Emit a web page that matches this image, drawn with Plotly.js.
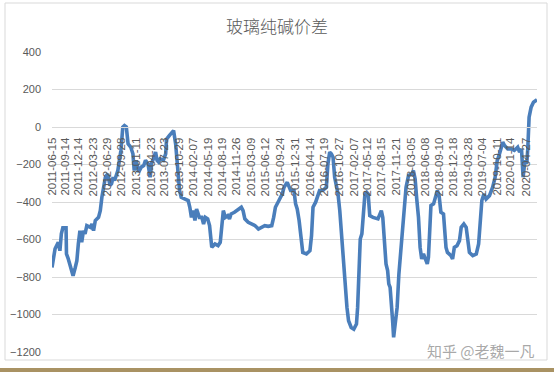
<!DOCTYPE html>
<html>
<head>
<meta charset="utf-8">
<script src="https://cdn.plot.ly/plotly-3.0.1.min.js"></script>
<style>html,body{margin:0;padding:0;background:#fff;}#chart{width:554px;height:372px;}</style>
</head>
<body>
<div id="chart"></div>
<script>
const chartTitle = "玻璃纯碱价差";
const seriesName = "玻璃纯碱价差";
const watermark = "知乎 @老魏一凡";

const dates = [
"2011-06-15","2011-06-26","2011-07-06","2011-07-28","2011-08-08","2011-08-18","2011-08-28","2011-09-19","2011-09-22","2011-10-03",
"2011-10-20","2011-11-06","2011-11-21","2011-12-02","2011-12-12","2011-12-23","2012-01-04","2012-01-16","2012-01-27","2012-02-08",
"2012-03-03","2012-03-14","2012-03-25","2012-04-06","2012-04-28","2012-05-10","2012-05-21","2012-06-02","2012-06-14","2012-06-29",
"2012-07-16","2012-07-26","2012-08-06","2012-08-16","2012-09-07","2012-09-28","2012-10-11","2012-10-22","2012-11-04","2012-11-16",
"2012-12-04","2012-12-19","2012-12-28","2013-01-11","2013-01-27","2013-02-14","2013-03-03","2013-03-15","2013-04-01","2013-04-16",
"2013-04-25","2013-05-12","2013-05-23","2013-06-02","2013-06-13","2013-06-23","2013-07-15","2013-07-31","2013-08-06","2013-08-26",
"2013-09-13","2013-09-23","2013-10-07","2013-10-16","2013-10-23","2013-11-03","2013-11-14","2013-12-08","2014-01-01","2014-01-12",
"2014-01-23","2014-02-04","2014-02-16","2014-02-27","2014-03-18","2014-04-04","2014-04-16","2014-04-28","2014-05-14","2014-05-27",
"2014-06-05","2014-06-11","2014-07-03","2014-07-24","2014-08-08","2014-08-20","2014-08-29","2014-09-12","2014-09-28","2014-10-10",
"2014-10-21","2014-11-13","2014-11-29","2014-12-13","2014-12-30","2015-01-11","2015-01-23","2015-02-15","2015-03-12","2015-04-03",
"2015-04-26","2015-05-18","2015-06-08","2015-07-02","2015-07-26","2015-08-08","2015-08-20","2015-09-13","2015-10-06","2015-10-18",
"2015-11-09","2015-12-02","2015-12-25","2016-01-05","2016-01-16","2016-01-29","2016-02-11","2016-02-23","2016-03-19","2016-04-12",
"2016-04-23","2016-05-03","2016-05-21","2016-06-06","2016-06-17","2016-07-09","2016-08-02","2016-08-13","2016-08-25","2016-09-05",
"2016-09-17","2016-09-28","2016-10-21","2016-11-02","2016-11-14","2016-11-27","2016-12-08","2016-12-21","2017-01-01","2017-01-19",
"2017-02-06","2017-02-24","2017-03-04","2017-03-11","2017-03-17","2017-03-22","2017-04-02","2017-04-13","2017-04-23","2017-05-05",
"2017-05-15","2017-05-26","2017-06-17","2017-07-21","2017-08-02","2017-08-13","2017-08-23","2017-09-04","2017-09-14","2017-09-25",
"2017-10-03","2017-10-12","2017-10-21","2017-10-29","2017-11-05","2017-11-17","2017-11-29","2017-12-11","2017-12-21","2018-01-05",
"2018-01-16","2018-01-29","2018-02-15","2018-03-10","2018-03-20","2018-04-01","2018-04-12","2018-04-24","2018-05-05","2018-05-16",
"2018-05-28","2018-06-17","2018-06-23","2018-07-01","2018-07-08","2018-07-18","2018-08-05","2018-08-21","2018-08-31","2018-09-12",
"2018-09-24","2018-10-12","2018-10-22","2018-10-29","2018-11-08","2018-12-02","2018-12-13","2018-12-25","2019-01-12","2019-01-29",
"2019-02-10","2019-02-28","2019-03-16","2019-03-27","2019-04-07","2019-04-30","2019-05-24","2019-06-09","2019-06-23","2019-07-01",
"2019-07-15","2019-07-30","2019-08-22","2019-09-13","2019-09-30","2019-10-14","2019-10-30","2019-11-11","2019-11-21","2019-12-03",
"2019-12-25","2020-01-19","2020-02-08","2020-03-02","2020-03-15","2020-03-28","2020-04-08","2020-04-21","2020-05-03","2020-05-10",
"2020-05-19","2020-06-02","2020-06-18","2020-07-12"
];

const spread = [
-749,-677,-649,-615,-660,-569,-538,-538,-677,-700,
-740,-793,-749,-713,-624,-553,-615,-553,-570,-526,
-535,-517,-553,-499,-482,-446,-375,-321,-268,-250,
-312,-302,-268,-285,-232,-125,0,8,0,-90,
-107,-143,-232,-178,-241,-214,-206,-178,-196,-268,
-196,-161,-134,-178,-187,-170,-178,-143,-65,-45,
-28,-19,-90,-179,-268,-339,-375,-384,-392,-428,
-482,-446,-499,-437,-482,-482,-517,-482,-490,-526,
-597,-642,-624,-633,-615,-517,-446,-482,-473,-490,
-464,-455,-446,-437,-428,-446,-490,-508,-517,-526,
-544,-535,-526,-530,-526,-482,-428,-392,-357,-321,
-295,-339,-339,-410,-437,-499,-588,-669,-677,-660,
-579,-428,-401,-357,-339,-339,-321,-197,-134,-143,
-161,-268,-357,-446,-588,-730,-855,-962,-1033,-1069,
-1078,-1051,-962,-820,-713,-597,-570,-482,-357,-348,
-357,-473,-482,-490,-464,-446,-482,-606,-730,-766,
-837,-855,-926,-1033,-1122,-1033,-962,-784,-677,-553,
-446,-321,-259,-250,-232,-277,-384,-482,-642,-704,
-677,-722,-730,-695,-553,-419,-410,-366,-339,-366,
-455,-464,-570,-642,-669,-686,-704,-642,-633,-606,
-535,-517,-535,-606,-669,-686,-677,-624,-499,-392,
-357,-384,-366,-321,-268,-179,-143,-108,-81,-99,
-117,-117,-125,-108,-134,-117,-268,-179,-196,-117,
52,106,132,145
];

const tickDates = [
"2011-06-15","2011-09-14","2011-12-14","2012-03-23","2012-06-29","2012-09-28","2013-01-11","2013-04-23",
"2013-07-23","2013-10-29","2014-02-07","2014-05-19","2014-08-19","2014-11-26","2015-03-09","2015-06-12",
"2015-09-24","2015-12-31","2016-04-14","2016-07-19","2016-10-27","2017-02-07","2017-05-12","2017-08-15",
"2017-11-21","2018-03-05","2018-06-08","2018-09-10","2018-12-18","2019-03-28","2019-07-04","2019-10-11",
"2020-01-14","2020-04-27"
];

const yTicks = [400,200,0,-200,-400,-600,-800,-1000,-1200];

const W = 554, H = 372;
const L = 52, R = 17, T = 52, B = 20;
const pw = W - L - R, ph = H - T - B;
function px(x){ return (x - L) / pw; }
function py(y){ return (H - B - y) / ph; }

const trace = {
  x: dates, y: spread, type: "scatter", mode: "lines", name: seriesName,
  line: {color: "#4a7ebb", width: 3.6}, hoverinfo: "x+y"
};

const layout = {
  width: W, height: H,
  margin: {l: L, r: R, t: T, b: B, pad: 0},
  paper_bgcolor: "#ffffff", plot_bgcolor: "#ffffff",
  showlegend: false,
  font: {family: "Liberation Sans, Arial, sans-serif", color: "#595959", size: 11},
  title: {
    text: chartTitle, x: 0.5, xref: "container", xanchor: "center",
    y: 1 - 27/H, yref: "container", yanchor: "middle",
    font: {family: "Noto Sans CJK SC, sans-serif", size: 17, color: "#595959", weight: 300}
  },
  xaxis: {
    type: "date",
    range: [dates[0], dates[dates.length - 1]],
    tickmode: "array", tickvals: tickDates, ticktext: tickDates,
    tickangle: -90, ticks: "", showgrid: false, zeroline: false,
    showline: true, linecolor: "#d9d9d9", linewidth: 1,
    anchor: "free", position: 0.75,
    tickfont: {size: 11.5, color: "#595959"}, ticklabelstandoff: 5
  },
  yaxis: {
    range: [-1200, 400], tickmode: "array", tickvals: yTicks,
    showgrid: true, gridcolor: "#d9d9d9", gridwidth: 1,
    zeroline: false, showline: false, ticks: "",
    tickfont: {size: 11, color: "#595959"}, ticklabelstandoff: 10
  },
  shapes: [
    {type: "rect", xref: "paper", yref: "paper", x0: px(5), x1: px(547), y0: py(360), y1: py(3),
     line: {color: "#d9d9d9", width: 1}, fillcolor: "rgba(0,0,0,0)", layer: "below"},
    {type: "rect", xref: "paper", yref: "paper", x0: px(0), x1: px(554), y0: py(372), y1: py(368),
     line: {width: 0}, fillcolor: "#a99263", layer: "above"}
  ],
  annotations: [
    {text: watermark, xref: "paper", yref: "paper", x: px(481), y: py(350),
     xanchor: "center", yanchor: "middle", showarrow: false,
     font: {family: "Noto Sans CJK SC, sans-serif", size: 15, color: "rgba(140,140,140,0.75)"}}
  ]
};

Plotly.newPlot("chart", [trace], layout, {displayModeBar: false, staticPlot: true});
</script>
</body>
</html>
